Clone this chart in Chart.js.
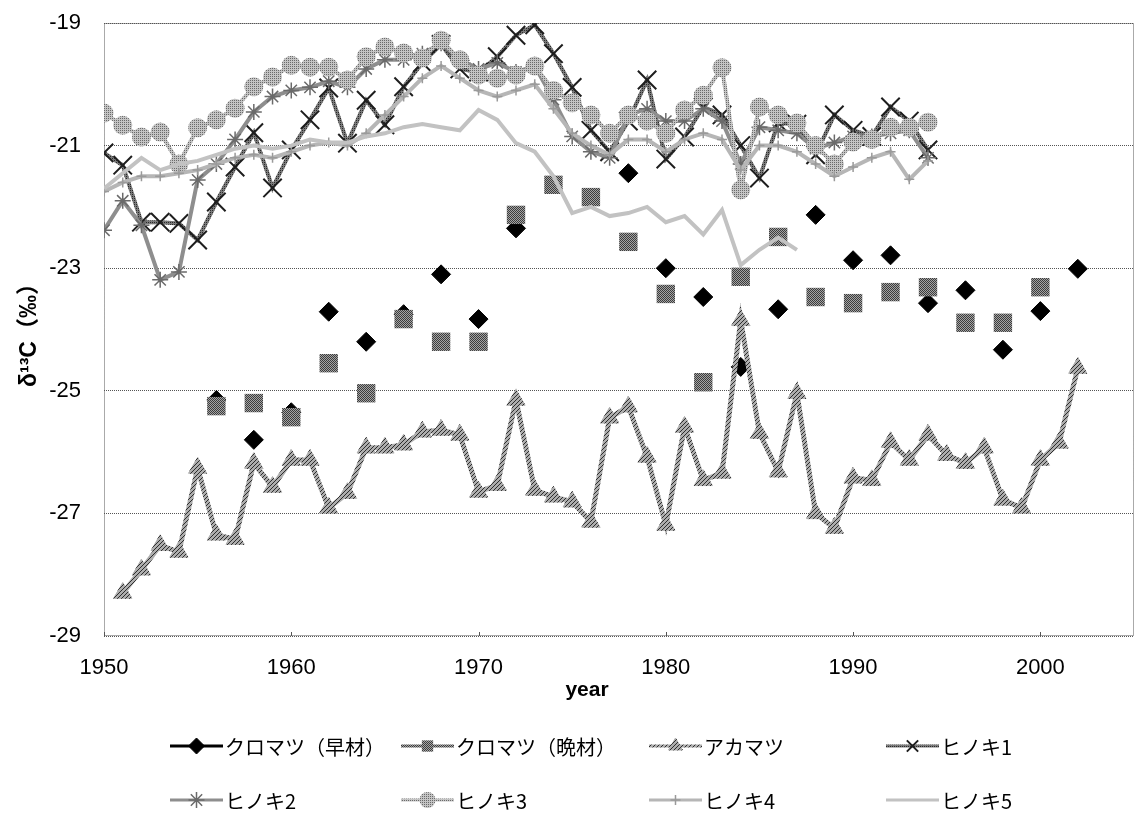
<!DOCTYPE html>
<html><head><meta charset="utf-8">
<script src="https://cdn.jsdelivr.net/npm/chart.js@4.4.1/dist/chart.umd.min.js"></script>
<style>html,body{margin:0;padding:0;background:#fff;overflow:hidden}canvas{display:block}</style>
</head><body>
<canvas id="c" width="1136" height="815"></canvas>
<script>
const years = [1950,1951,1952,1953,1954,1955,1956,1957,1958,1959,1960,1961,1962,1963,1964,1965,1966,1967,1968,1969,1970,1971,1972,1973,1974,1975,1976,1977,1978,1979,1980,1981,1982,1983,1984,1985,1986,1987,1988,1989,1990,1991,1992,1993,1994,1995,1996,1997,1998,1999,2000,2001,2002];
const xTickLabels = [1950,1960,1970,1980,1990,2000];
const yTickLabels = [-29,-27,-25,-23,-21,-19];
const seriesNames = ['クロマツ（早材）','クロマツ（晩材）','アカマツ','ヒノキ1','ヒノキ2','ヒノキ3','ヒノキ4','ヒノキ5'];
const kuroEarly = [null,null,null,null,null,null,-25.15,null,-25.80,null,-25.35,null,-23.71,null,-24.20,null,-23.75,null,-23.10,null,-23.83,null,-22.35,null,null,null,null,null,-21.45,null,-23.00,null,-23.47,null,-24.61,null,-23.67,null,-22.13,null,-22.87,null,-22.79,null,-23.57,null,-23.36,null,-24.33,null,-23.70,null,-23.01];
const kuroLate = [null,null,null,null,null,null,-25.25,null,-25.20,null,-25.43,null,-24.55,null,-25.04,null,-23.83,null,-24.20,null,-24.20,null,-22.13,null,-21.64,null,-21.84,null,-22.57,null,-23.42,null,-24.86,null,-23.14,null,-22.49,null,-23.47,null,-23.57,null,-23.39,null,-23.31,null,-23.89,null,-23.89,null,-23.31,null,null];
const akamatsu = [null,-28.30,-27.92,-27.52,-27.63,-26.26,-27.35,-27.42,-26.18,-26.57,-26.13,-26.13,-26.91,-26.67,-25.93,-25.93,-25.88,-25.67,-25.64,-25.72,-26.65,-26.54,-25.15,-26.62,-26.73,-26.81,-27.14,-25.44,-25.26,-26.08,-27.19,-25.59,-26.46,-26.34,-23.85,-25.69,-26.32,-25.04,-27.00,-27.24,-26.42,-26.46,-25.84,-26.13,-25.72,-26.05,-26.18,-25.93,-26.78,-26.91,-26.13,-25.85,-24.63];
const hinoki1 = [-21.12,-21.32,-22.25,-22.25,-22.27,-22.54,-21.92,-21.35,-20.79,-21.69,-21.07,-20.58,-20.06,-20.96,-20.26,-20.66,-20.04,-19.65,-19.35,-19.75,-19.80,-19.55,-19.20,-19.03,-19.50,-20.05,-20.75,-21.10,-20.60,-19.93,-21.22,-20.86,-20.37,-20.50,-21.00,-21.53,-20.63,-20.65,-21.15,-20.50,-20.75,-20.85,-20.37,-20.60,-21.07];
const hinoki2 = [-22.38,-21.90,-22.30,-23.19,-23.06,-21.56,-21.30,-20.90,-20.45,-20.20,-20.10,-20.05,-19.95,-20.05,-19.75,-19.60,-19.60,-19.50,-19.33,-19.60,-19.75,-19.65,-19.80,-19.70,-20.25,-20.85,-21.10,-21.20,-20.50,-20.40,-20.60,-20.60,-20.40,-20.60,-21.30,-20.70,-20.75,-20.80,-21.05,-20.95,-20.85,-20.85,-20.80,-20.75,-21.20];
const hinoki3 = [-20.47,-20.67,-20.86,-20.78,-21.30,-20.71,-20.58,-20.39,-20.04,-19.88,-19.69,-19.72,-19.72,-19.93,-19.55,-19.39,-19.49,-19.57,-19.28,-19.60,-19.85,-19.90,-19.85,-19.70,-20.10,-20.30,-20.50,-20.80,-20.50,-20.60,-20.80,-20.42,-20.18,-19.73,-21.72,-20.37,-20.50,-20.63,-21.00,-21.30,-20.94,-20.90,-20.70,-20.70,-20.62];
const hinoki4 = [-21.75,-21.60,-21.50,-21.50,-21.45,-21.40,-21.30,-21.20,-21.15,-21.20,-21.10,-21.00,-20.95,-21.00,-20.80,-20.50,-20.20,-19.90,-19.70,-19.90,-20.10,-20.20,-20.10,-20.00,-20.40,-20.80,-21.00,-21.15,-20.90,-20.90,-21.10,-20.90,-20.80,-20.90,-21.40,-21.00,-21.00,-21.10,-21.30,-21.50,-21.35,-21.20,-21.10,-21.55,-21.25];
const hinoki5 = [-21.70,-21.45,-21.20,-21.40,-21.30,-21.25,-21.15,-21.05,-21.00,-21.05,-21.00,-20.90,-20.95,-20.95,-20.85,-20.80,-20.70,-20.65,-20.70,-20.75,-20.42,-20.58,-20.96,-21.10,-21.50,-22.10,-22.00,-22.15,-22.10,-22.00,-22.25,-22.15,-22.45,-22.05,-22.95,-22.70,-22.50,-22.70];

const toXY = arr => arr.map((v,i)=>({x:years[i], y:v}));
const TFONT = "'Liberation Sans', Arial, sans-serif";
const TSIZE = 22;
const JFONT = "'Noto Sans CJK JP', sans-serif";

const mainCtx = document.getElementById('c').getContext('2d');
function makePattern(size, bg, fg, cells){
  const t = document.createElement('canvas'); t.width = t.height = size;
  const g = t.getContext('2d');
  g.fillStyle = bg; g.fillRect(0,0,size,size);
  g.fillStyle = fg; cells.forEach(([x,y]) => g.fillRect(x,y,1,1));
  return mainCtx.createPattern(t, 'repeat');
}
const checker = makePattern(2, '#a4a4a4', '#3c3c3c', [[0,0],[1,1]]);
const hatch = makePattern(4, '#adadad', '#2e2e2e', [[0,3],[1,2],[2,1],[3,0]]);
const dots1 = makePattern(2, '#7a7a7a', '#2a2a2a', [[0,0]]);
const dots3 = makePattern(2, '#c4c4c4', '#6a6a6a', [[0,0]]);

const styles = [
  {color:'#000000', pcolor:'#000000', lw:4, ps:'rectRot', r:9.5, pbw:1},
  {color:checker, pcolor:checker, lw:3, ps:'rect', r:13, pbw:0},
  {color:hatch, pcolor:hatch, lw:5, ps:'triangle', r:10.5, pbw:1},
  {color:dots1, pcolor:'#1e1e1e', lw:4, ps:'crossRot', r:13, pbw:2},
  {color:'#8e8e8e', pcolor:'#6a6a6a', lw:4, ps:'star', r:8, pbw:1.5},
  {color:dots3, pcolor:dots3, lw:4, ps:'circle', r:9.5, pbw:0},
  {color:'#b6b6b6', pcolor:'#9a9a9a', lw:4, ps:'cross', r:5, pbw:1.5},
  {color:'#c2c2c2', pcolor:'#c2c2c2', lw:4, ps:false, r:0, pbw:0}
];
const seriesData = [kuroEarly,kuroLate,akamatsu,hinoki1,hinoki2,hinoki3,hinoki4,hinoki5];

const datasets = seriesData.map((arr,i)=>{
  const s = styles[i];
  return {
    label: seriesNames[i],
    data: toXY(arr),
    borderColor: s.color,
    backgroundColor: s.pcolor,
    borderWidth: s.lw,
    pointStyle: s.ps,
    pointRadius: s.r,
    pointBackgroundColor: s.pcolor,
    pointBorderColor: s.pcolor,
    pointBorderWidth: s.pbw,
    spanGaps: false,
    tension: 0,
    order: 10 - i
  };
});

function drawMarker(ctx, s, x, y){
  if(!s.ps) return;
  ctx.save();
  ctx.fillStyle = s.pcolor; ctx.strokeStyle = s.pcolor; ctx.lineWidth = s.pbw;
  Chart.helpers.drawPoint(ctx, {pointStyle:s.ps, radius:s.r, rotation:0, borderWidth:s.pbw}, x, y);
  ctx.restore();
}

const deco = {
  id:'deco',
  beforeDatasetsDraw(chart){
    const {ctx, chartArea:a} = chart;
    ctx.save();
    ctx.strokeStyle = '#555'; ctx.lineWidth = 1; ctx.setLineDash([1,1]);
    ctx.strokeRect(a.left+0.5, a.top+0.5, a.right-a.left-1, a.bottom-a.top-1);
    ctx.setLineDash([]);
    const xs = chart.scales.x;
    xTickLabels.forEach(v => { const px = Math.round(xs.getPixelForValue(v))+0.5; ctx.beginPath(); ctx.moveTo(px, a.bottom-4); ctx.lineTo(px, a.bottom); ctx.stroke(); });
    ctx.restore();
  },
  afterDraw(chart){
    const {ctx} = chart;
    ctx.save();
    ctx.fillStyle = '#000';
    ctx.font = "bold 21px " + TFONT;
    ctx.textAlign = 'center'; ctx.textBaseline = 'middle';
    ctx.fillText('year', 587, 690);
    const cols = [170, 401, 649, 886];
    const rows = [746, 800];
    ctx.font = "20px " + JFONT;
    ctx.textAlign = 'left';
    seriesNames.forEach((name,i)=>{
      const s = styles[i];
      const x0 = cols[i%4], y = rows[Math.floor(i/4)];
      ctx.save();
      ctx.strokeStyle = s.color; ctx.lineWidth = Math.min(s.lw, 3); ctx.setLineDash([]);
      ctx.beginPath(); ctx.moveTo(x0, y); ctx.lineTo(x0+53, y); ctx.stroke();
      ctx.restore();
      drawMarker(ctx, Object.assign({}, s, {r: Math.min(s.r, 8)}), x0+26.5, y);
      ctx.fillStyle = '#000';
      ctx.fillText(name, x0+55, y+1);
    });
    ctx.restore();
  }
};

new Chart(mainCtx, {
  type:'line',
  data:{datasets},
  options:{
    responsive:false, animation:false, devicePixelRatio:1,
    layout:{autoPadding:false, padding:{top:23, right:2, left:0, bottom:0}},
    plugins:{legend:{display:false}, tooltip:{enabled:false}},
    scales:{
      x:{
        type:'linear', min:1950, max:2005,
        afterBuildTicks: s => { s.ticks = xTickLabels.map(v=>({value:v})); },
        afterFit: s => { s.height = 179; s.paddingLeft = 0; s.paddingRight = 0; },
        grid:{display:false}, border:{display:false},
        ticks:{font:{size:TSIZE, family:TFONT}, color:'#000', padding:11, maxRotation:0, callback: v => String(v)}
      },
      y:{
        min:-29, max:-19,
        afterBuildTicks: s => { s.ticks = yTickLabels.map(v=>({value:v})); },
        afterFit: s => { s.width = 104; s.paddingTop = 0; s.paddingBottom = 0; },
        grid:{color:'#555', lineWidth:1, tickLength:0}, border:{display:false, dash:[1,1]},
        ticks:{font:{size:TSIZE, family:TFONT}, color:'#000', padding:23, callback: v => String(v)},
        title:{display:true, text:'δ¹³C（‰）', color:'#000', font:{size:23, weight:'bold', family:"'Liberation Sans', 'Noto Sans CJK JP', sans-serif"}, padding:{top:16,bottom:0}}
      }
    }
  },
  plugins:[deco]
});
</script>
</body></html>
